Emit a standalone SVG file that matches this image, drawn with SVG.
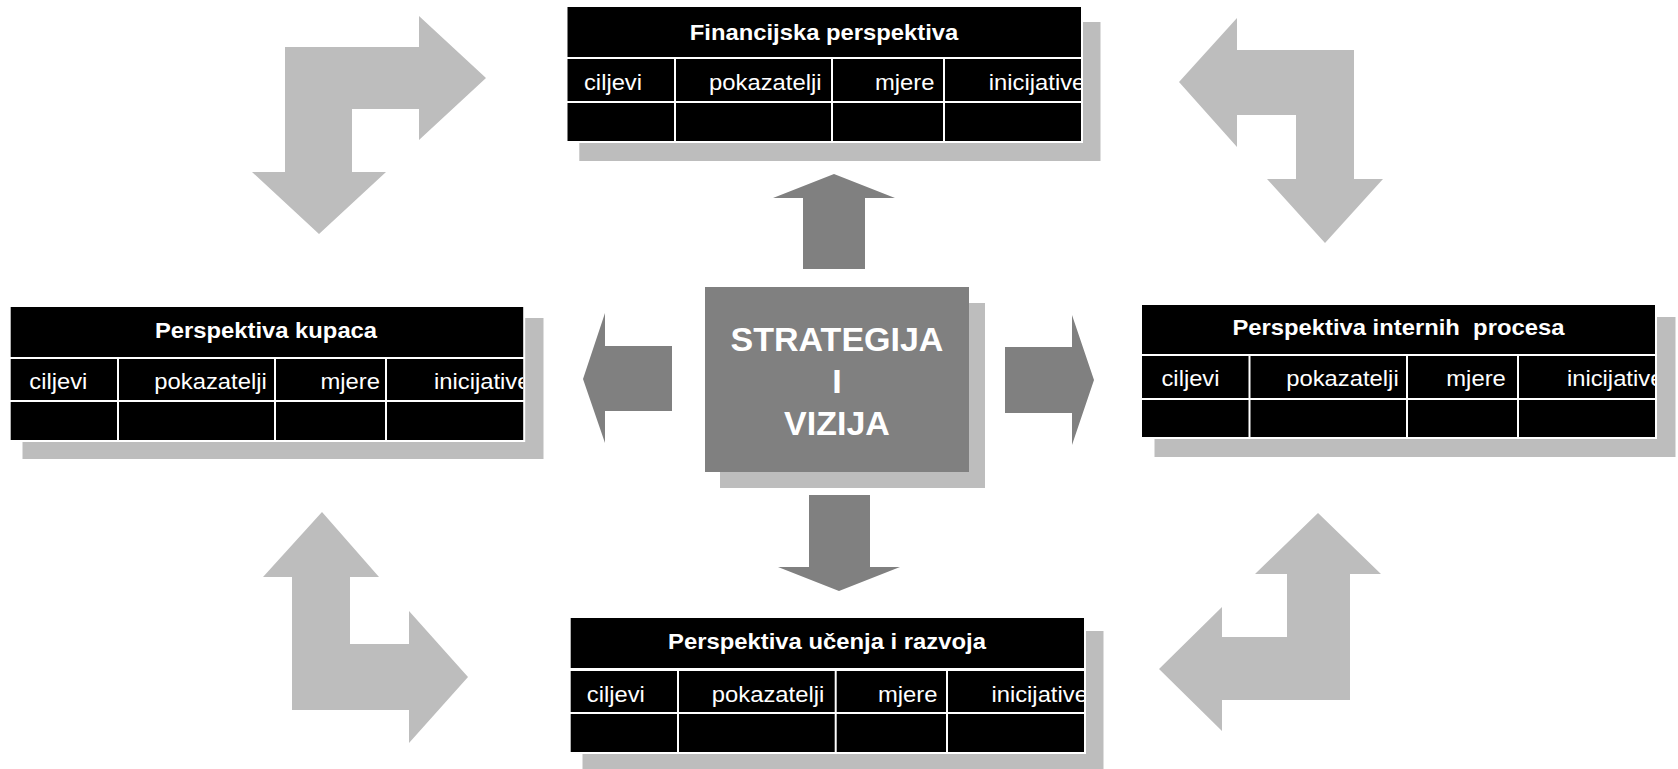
<svg xmlns="http://www.w3.org/2000/svg" width="1678" height="769" viewBox="0 0 1678 769">
<style>
.shadow{fill:#bdbdbd}
.cell{fill:#000}
.frame{fill:#fff}
.hdr{font-family:"Liberation Sans",Arial,sans-serif;font-weight:bold;font-size:21.5px;fill:#fff;text-anchor:middle}
.lbl{font-family:"Liberation Sans",Arial,sans-serif;font-size:22px;fill:#fff}
.big{font-family:"Liberation Sans",Arial,sans-serif;font-weight:bold;font-size:34px;fill:#fff;text-anchor:middle}
.bent{fill:#bdbdbd}
.main{fill:#808080}
</style>
<defs>
<clipPath id="cF"><rect x="567.5" y="7" width="513.5" height="134"/></clipPath>
<clipPath id="cK"><rect x="10.7" y="307" width="512.5" height="133"/></clipPath>
<clipPath id="cI"><rect x="1142" y="305" width="513" height="132"/></clipPath>
<clipPath id="cU"><rect x="570.7" y="618" width="513.3" height="134"/></clipPath>
</defs>
<rect width="1678" height="769" fill="#fff"/>

<g id="connectors">
<polygon class="bent" points="285,47 419,47 419,16 486,78 419,140 419,109 352,109 352,172 386,172 319,234 252,172 285,172"/>
<polygon class="bent" points="1179,82 1237,18 1237,50 1354,50 1354,179 1383,179 1325,243 1267,179 1296,179 1296,115 1237,115 1237,147"/>
<polygon class="bent" points="322,512 379,577 350,577 350,644 409,644 409,611 468,677 409,743 409,710 292,710 292,577 263,577"/>
<polygon class="bent" points="1318,513 1381,574 1350,574 1350,700 1222,700 1222,731 1159,669 1222,607 1222,637 1287,637 1287,574 1255,574"/>
<polygon class="main" points="834,174 895,198 865,198 865,269 803,269 803,198 773,198"/>
<polygon class="main" points="809,495 870,495 870,567 900,567 839,591 778,567 809,567"/>
<polygon class="main" points="583,379 605,313 605,346 672,346 672,411 605,411 605,443"/>
<polygon class="main" points="1005,347 1072,347 1072,315 1094,380 1072,445 1072,413 1005,413"/>
</g>

<g id="strategija">
<rect class="shadow" x="720" y="303" width="265" height="185"/>
<rect class="main" x="705" y="287" width="264" height="185"/>
<text class="big" x="837" y="351">STRATEGIJA</text>
<text class="big" x="837" y="393">I</text>
<text class="big" x="837" y="435">VIZIJA</text>
</g>

<g id="financijska">
<rect class="shadow" x="579.3" y="22" width="521.2" height="139"/>
<rect class="frame" x="565.5" y="5" width="517.5" height="138"/>
<rect class="cell" x="567.5" y="7" width="513.5" height="50"/>
<rect class="cell" x="567.5" y="59" width="106.5" height="42"/>
<rect class="cell" x="676" y="59" width="155" height="42"/>
<rect class="cell" x="833" y="59" width="110" height="42"/>
<rect class="cell" x="945" y="59" width="136" height="42"/>
<rect class="cell" x="567.5" y="103" width="106.5" height="38"/>
<rect class="cell" x="676" y="103" width="155" height="38"/>
<rect class="cell" x="833" y="103" width="110" height="38"/>
<rect class="cell" x="945" y="103" width="136" height="38"/>
<g clip-path="url(#cF)">
<text class="hdr" x="824" y="40" textLength="268.5" lengthAdjust="spacingAndGlyphs">Financijska perspektiva</text>
<text class="lbl" x="584" y="90" textLength="58" lengthAdjust="spacingAndGlyphs">ciljevi</text>
<text class="lbl" x="709" y="90" textLength="112.5" lengthAdjust="spacingAndGlyphs">pokazatelji</text>
<text class="lbl" x="875" y="90" textLength="59.5" lengthAdjust="spacingAndGlyphs">mjere</text>
<text class="lbl" x="988.8" y="90" textLength="96.5" lengthAdjust="spacingAndGlyphs">inicijative</text>
</g>
</g>

<g id="kupaca">
<rect class="shadow" x="22.5" y="318" width="521" height="141"/>
<rect class="frame" x="8.7" y="305" width="516.5" height="137"/>
<rect class="cell" x="10.7" y="307" width="512.5" height="50"/>
<rect class="cell" x="10.7" y="359" width="106.3" height="41"/>
<rect class="cell" x="119" y="359" width="155" height="41"/>
<rect class="cell" x="276" y="359" width="109" height="41"/>
<rect class="cell" x="387" y="359" width="136.2" height="41"/>
<rect class="cell" x="10.7" y="402" width="106.3" height="38"/>
<rect class="cell" x="119" y="402" width="155" height="38"/>
<rect class="cell" x="276" y="402" width="109" height="38"/>
<rect class="cell" x="387" y="402" width="136.2" height="38"/>
<g clip-path="url(#cK)">
<text class="hdr" x="266" y="338" textLength="222.2" lengthAdjust="spacingAndGlyphs">Perspektiva kupaca</text>
<text class="lbl" x="29.3" y="389" textLength="58" lengthAdjust="spacingAndGlyphs">ciljevi</text>
<text class="lbl" x="154.3" y="389" textLength="112.5" lengthAdjust="spacingAndGlyphs">pokazatelji</text>
<text class="lbl" x="320.4" y="389" textLength="59.5" lengthAdjust="spacingAndGlyphs">mjere</text>
<text class="lbl" x="434" y="389" textLength="96.5" lengthAdjust="spacingAndGlyphs">inicijative</text>
</g>
</g>

<g id="interni">
<rect class="shadow" x="1154.5" y="317" width="521" height="140"/>
<rect class="frame" x="1140" y="303" width="517" height="136"/>
<rect class="cell" x="1142" y="305" width="513" height="49"/>
<rect class="cell" x="1142" y="356" width="106.5" height="42"/>
<rect class="cell" x="1250.5" y="356" width="155.5" height="42"/>
<rect class="cell" x="1408" y="356" width="109" height="42"/>
<rect class="cell" x="1519" y="356" width="136" height="42"/>
<rect class="cell" x="1142" y="400" width="106.5" height="37"/>
<rect class="cell" x="1250.5" y="400" width="155.5" height="37"/>
<rect class="cell" x="1408" y="400" width="109" height="37"/>
<rect class="cell" x="1519" y="400" width="136" height="37"/>
<g clip-path="url(#cI)">
<text class="hdr" x="1398.4" y="335" xml:space="preserve" textLength="332" lengthAdjust="spacingAndGlyphs">Perspektiva internih  procesa</text>
<text class="lbl" x="1161.5" y="386" textLength="58" lengthAdjust="spacingAndGlyphs">ciljevi</text>
<text class="lbl" x="1286.2" y="386" textLength="112.5" lengthAdjust="spacingAndGlyphs">pokazatelji</text>
<text class="lbl" x="1446.3" y="386" textLength="59.5" lengthAdjust="spacingAndGlyphs">mjere</text>
<text class="lbl" x="1566.9" y="386" textLength="96.5" lengthAdjust="spacingAndGlyphs">inicijative</text>
</g>
</g>

<g id="ucenje">
<rect class="shadow" x="582.5" y="631" width="521" height="138"/>
<rect class="frame" x="568.7" y="616" width="517.3" height="138"/>
<rect class="cell" x="570.7" y="618" width="513.3" height="50"/>
<rect class="cell" x="570.7" y="671" width="106.3" height="41"/>
<rect class="cell" x="679" y="671" width="155.7" height="41"/>
<rect class="cell" x="836.7" y="671" width="109.3" height="41"/>
<rect class="cell" x="948" y="671" width="136" height="41"/>
<rect class="cell" x="570.7" y="714" width="106.3" height="38"/>
<rect class="cell" x="679" y="714" width="155.7" height="38"/>
<rect class="cell" x="836.7" y="714" width="109.3" height="38"/>
<rect class="cell" x="948" y="714" width="136" height="38"/>
<g clip-path="url(#cU)">
<text class="hdr" x="827" y="649" textLength="318" lengthAdjust="spacingAndGlyphs">Perspektiva učenja i razvoja</text>
<text class="lbl" x="586.8" y="702" textLength="58" lengthAdjust="spacingAndGlyphs">ciljevi</text>
<text class="lbl" x="711.8" y="702" textLength="112.5" lengthAdjust="spacingAndGlyphs">pokazatelji</text>
<text class="lbl" x="877.9" y="702" textLength="59.5" lengthAdjust="spacingAndGlyphs">mjere</text>
<text class="lbl" x="991.4" y="702" textLength="96.5" lengthAdjust="spacingAndGlyphs">inicijative</text>
</g>
</g>
</svg>
